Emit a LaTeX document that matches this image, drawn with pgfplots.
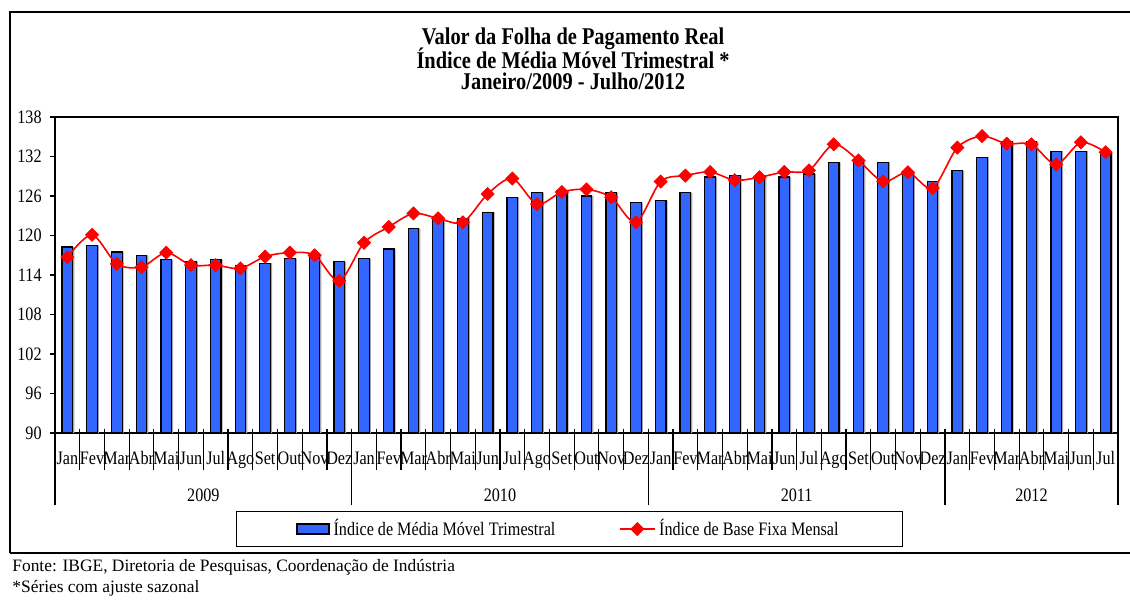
\documentclass[border=0pt]{standalone}
\usepackage{fontspec}
\setmainfont{Liberation Serif}
\newfontfamily\cf{Liberation Serif}[FakeStretch=0.85]
\usepackage{pgfplots}
\pgfplotsset{compat=1.18}
\definecolor{barblue}{RGB}{51,102,255}
\newcommand\lf{\cf\fontsize{9.5}{11}\selectfont}
\pgfplotsset{barlegend/.style={legend image code/.code={\draw[##1] (0pt,-2.5pt) rectangle (16pt,2.5pt);}}}
\pgfplotstableread{
x bar line
0 118.25 116.7
1 118.5 120.1
2 117.5 115.7
3 117.0 115.2
4 116.3 117.4
5 116.0 115.5
6 116.3 115.5
7 115.4 115.0
8 115.8 116.8
9 116.5 117.4
10 117.2 117.0
11 116.0 113.1
12 116.5 118.9
13 117.95 121.3
14 121.1 123.35
15 122.4 122.6
16 122.6 122.0
17 123.55 126.3
18 125.8 128.65
19 126.5 124.75
20 126.8 126.6
21 126.0 127.0
22 126.5 125.8
23 125.0 122.0
24 125.3 128.2
25 126.5 129.1
26 128.9 129.65
27 129.15 128.4
28 128.9 128.85
29 128.9 129.65
30 129.35 129.9
31 131.1 133.85
32 131.5 131.4
33 131.1 128.2
34 129.65 129.6
35 128.2 127.2
36 129.85 133.35
37 131.85 135.1
38 134.3 133.95
39 134.3 133.85
40 132.8 130.8
41 132.8 134.15
42 132.55 132.65
}\datatable
\begin{document}
\begin{tikzpicture}
\path[use as bounding box] (0pt,0pt) rectangle (565pt,300.5pt);
\draw[line width=1pt] (5pt,24pt) -- (5pt,294.25pt) -- (565pt,294.25pt);
\draw[line width=1pt] (5pt,24pt) -- (565pt,24pt);
\node[anchor=base, inner sep=0pt, font=\cf\bfseries\fontsize{12}{14}\selectfont] at (286.5pt,278pt) {Valor da Folha de Pagamento Real};
\node[anchor=base, inner sep=0pt, font=\cf\bfseries\fontsize{12}{14}\selectfont] at (286.5pt,266.4pt) {Índice de Média Móvel Trimestral *};
\node[anchor=base, inner sep=0pt, font=\cf\bfseries\fontsize{12}{14}\selectfont] at (286.5pt,255.5pt) {Janeiro/2009 - Julho/2012};
\node[anchor=base west, inner sep=0pt, font=\fontsize{8.7}{10}\selectfont] at (6pt,15pt) {Fonte: IBGE, Diretoria de Pesquisas, Coordenação de Indústria};
\node[anchor=base west, inner sep=0pt, font=\fontsize{8.7}{10}\selectfont] at (6pt,4.25pt) {*Séries com ajuste sazonal};
\begin{axis}[
  at={(27.5pt,84pt)}, anchor=south west, scale only axis,
  width=531.5pt, height=158pt,
  xmin=-0.5, xmax=42.5, ymin=90, ymax=138,
  ytick={90,96,...,138},
  xtick={0,...,42},
  xticklabels={Jan,Fev,Mar,Abr,Mai,Jun,Jul,Ago,Set,Out,Nov,Dez,Jan,Fev,Mar,Abr,Mai,Jun,Jul,Ago,Set,Out,Nov,Dez,Jan,Fev,Mar,Abr,Mai,Jun,Jul,Ago,Set,Out,Nov,Dez,Jan,Fev,Mar,Abr,Mai,Jun,Jul},
  ytick pos=left,
  tick align=outside,
  major tick length=2.5pt,
  major x tick style=transparent,
  tick style={black, line width=0.6pt},
  axis line style={line width=0.6pt},
  /pgf/number format/assume math mode=true,
  ticklabel style={font=\lf},
  yticklabel style={inner sep=0pt, xshift=-4pt},
  xticklabel style={anchor=base, inner sep=0pt, yshift=-13pt},
  clip mode=individual,
  legend columns=2,
  legend cell align=left,
  legend style={at={(0.484,0)}, anchor=center, yshift=-48pt, draw=black, line width=0.6pt, font=\lf, inner xsep=30pt, inner ysep=2pt, /tikz/every even column/.append style={column sep=30pt}},
]
\addplot[ybar, bar width=5.3pt, bar shift=0.8pt, fill=black!35, draw=none, forget plot] table[x=x, y=bar] {\datatable};
\addplot[ybar, bar width=5.3pt, fill=barblue, draw=black, line width=0.6pt, barlegend] table[x=x, y=bar] {\datatable};
\addplot[red, line width=0.8pt, smooth, mark=square*, mark size=2.3pt, mark options={rotate=45, fill=red, draw=red, line width=0.4pt}] table[x=x, y=line] {\datatable};
\legend{Índice de Média Móvel Trimestral, Índice de Base Fixa Mensal}
\pgfplotsinvokeforeach{0.5,1.5,...,41.5}{\draw[line width=0.6pt] (axis cs:#1,90) ++(0pt,2.2pt) -- ++(0pt,-20.7pt);}
\pgfplotsinvokeforeach{-0.5,11.5,23.5,35.5,42.5}{\draw[line width=0.6pt] (axis cs:#1,90) ++(0pt,2.2pt) -- ++(0pt,-38.2pt);}
\node[font=\lf, anchor=base] at (axis cs:5.5,90) [yshift=-34pt] {2009};
\node[font=\lf, anchor=base] at (axis cs:17.5,90) [yshift=-34pt] {2010};
\node[font=\lf, anchor=base] at (axis cs:29.5,90) [yshift=-34pt] {2011};
\node[font=\lf, anchor=base] at (axis cs:39,90) [yshift=-34pt] {2012};
\end{axis}
\end{tikzpicture}
\end{document}
